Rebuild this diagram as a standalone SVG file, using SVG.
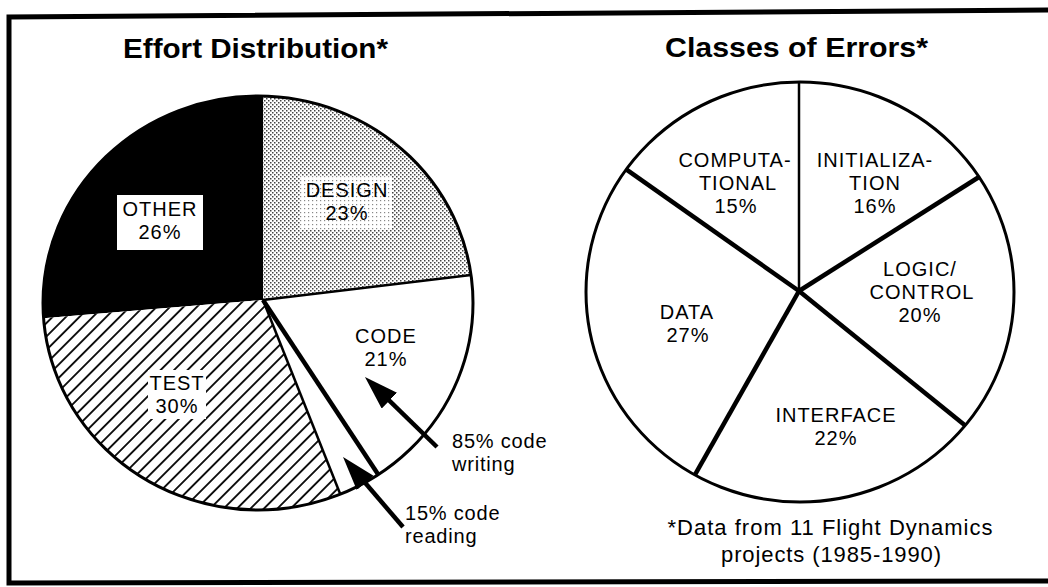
<svg xmlns="http://www.w3.org/2000/svg" width="1048" height="587" viewBox="0 0 1048 587">
<style>
text{font-family:"Liberation Sans",Arial,Helvetica,sans-serif;fill:#000}
.t{font-size:27px;font-weight:bold;text-anchor:middle}
.l{font-size:20px;letter-spacing:1px;text-anchor:middle}
.s{font-size:20px;letter-spacing:0.8px}
.f{font-size:22px;text-anchor:middle}
.rim{fill:none;stroke:#000;stroke-width:3}
.thin{stroke:#000;stroke-width:2.5;fill:none}
.thick{stroke:#000;stroke-width:4.5;fill:none}
.arr{stroke:#000;stroke-width:4.5;fill:none;marker-end:url(#ah)}
</style>
<defs>
<pattern id="stip" width="4" height="4" patternUnits="userSpaceOnUse">
<rect width="4" height="4" fill="#fff"/>
<rect x="0" y="0" width="1.5" height="1.5" fill="#444"/>
<rect x="2" y="2" width="1.5" height="1.5" fill="#444"/>
</pattern>
<pattern id="stip2" width="4" height="4" patternUnits="userSpaceOnUse">
<rect width="4" height="4" fill="#fff"/>
<rect x="0" y="0" width="1.2" height="1.2" fill="#888"/>
</pattern>
<pattern id="hatch" width="9.5" height="9.5" patternUnits="userSpaceOnUse" patternTransform="rotate(-45)">
<rect width="9.5" height="9.5" fill="#fff"/>
<line x1="0" y1="4.75" x2="9.5" y2="4.75" stroke="#000" stroke-width="1.8"/>
</pattern>
<marker id="ah" markerUnits="userSpaceOnUse" markerWidth="36" markerHeight="24" refX="9" refY="11" orient="auto">
<path d="M0,0 L34,11 L0,22 Z" fill="#000"/>
</marker>
</defs>
<rect width="1048" height="587" fill="#fff"/>
<g id="frame" fill="none" stroke="#000" stroke-width="5">
<polyline points="1048,10 9,17 9,583 1048,581"/>
</g>
<g id="effort-title"><text class="t" x="255.5" y="58" textLength="265" lengthAdjust="spacingAndGlyphs">Effort Distribution*</text></g>
<g id="errors-title"><text class="t" x="796.5" y="57" textLength="263" lengthAdjust="spacingAndGlyphs">Classes of Errors*</text></g>

<g id="effort-pie">
<g id="slice-other">
<path d="M263,300 L43.6,318.2 A215 207 0 0 1 263.2,96.1 Z" fill="#000"/>
<rect x="117" y="195" width="86" height="55" fill="#fff"/>
<text class="l" x="160" y="216">OTHER</text>
<text class="l" x="160" y="239">26%</text>
</g>
<g id="slice-design">
<path d="M263,300 L263.2,96.1 A215 207 0 0 1 471,274.9 Z" fill="url(#stip)"/>
<rect x="300" y="176" width="92" height="54" fill="url(#stip2)"/>
<text class="l" x="347" y="196.5">DESIGN</text>
<text class="l" x="347" y="219.5">23%</text>
</g>
<g id="slice-code">
<path d="M263,300 L471,274.9 A215 207 0 0 1 340.3,494.2 Z" fill="#fff"/>
<text class="l" x="386" y="342.5">CODE</text>
<text class="l" x="386" y="365.5">21%</text>
</g>
<g id="slice-test">
<path d="M263,300 L340.3,494.2 A215 207 0 0 1 43.6,318.2 Z" fill="url(#hatch)"/>
<rect x="148" y="370" width="58" height="49" fill="#fff"/>
<text class="l" x="177" y="390">TEST</text>
<text class="l" x="177" y="413">30%</text>
</g>
<line class="thin" x1="263" y1="300" x2="471" y2="274.9"/>
<line class="thin" x1="263" y1="300" x2="340.3" y2="494.2"/>
<line class="thick" x1="263" y1="300" x2="378.2" y2="474.6"/>
<ellipse class="rim" cx="258" cy="303" rx="215" ry="207"/>
</g>

<g id="note-writing">
<text class="s" x="452" y="448">85% code</text>
<text class="s" x="452" y="471">writing</text>
</g>
<g id="note-reading">
<text class="s" x="405" y="520">15% code</text>
<text class="s" x="405" y="543">reading</text>
</g>

<g id="connectors">
<line class="arr" x1="437" y1="447" x2="382.9" y2="394.4"/>
<line class="arr" x1="403" y1="527" x2="359.3" y2="476"/>
</g>

<g id="errors-pie">
<ellipse cx="800" cy="292" rx="214" ry="210" fill="#fff"/>
<line class="thin" x1="799" y1="291" x2="799" y2="82"/>
<line class="thick" x1="799" y1="291" x2="979" y2="177"/>
<line class="thick" x1="799" y1="291" x2="965.2" y2="425.6"/>
<line class="thick" x1="799" y1="291" x2="694.9" y2="474.9"/>
<line class="thick" x1="799" y1="291" x2="626.2" y2="169.4"/>
<ellipse class="rim" cx="800" cy="292" rx="214" ry="210"/>
<g id="slice-computational">
<text class="l" x="735" y="167">COMPUTA-</text>
<text class="l" x="738" y="190">TIONAL</text>
<text class="l" x="736" y="213">15%</text>
</g>
<g id="slice-initialization">
<text class="l" x="875" y="167">INITIALIZA-</text>
<text class="l" x="875" y="190">TION</text>
<text class="l" x="875" y="213">16%</text>
</g>
<g id="slice-logic">
<text class="l" x="920" y="276">LOGIC/</text>
<text class="l" x="922" y="299">CONTROL</text>
<text class="l" x="920" y="322">20%</text>
</g>
<g id="slice-data">
<text class="l" x="687" y="319">DATA</text>
<text class="l" x="688" y="342">27%</text>
</g>
<g id="slice-interface">
<text class="l" x="836" y="422">INTERFACE</text>
<text class="l" x="836" y="445">22%</text>
</g>
</g>

<g id="footnote">
<text class="f" x="830" y="535" textLength="325">*Data from 11 Flight Dynamics</text>
<text class="f" x="831" y="562" textLength="220">projects (1985-1990)</text>
</g>
</svg>
